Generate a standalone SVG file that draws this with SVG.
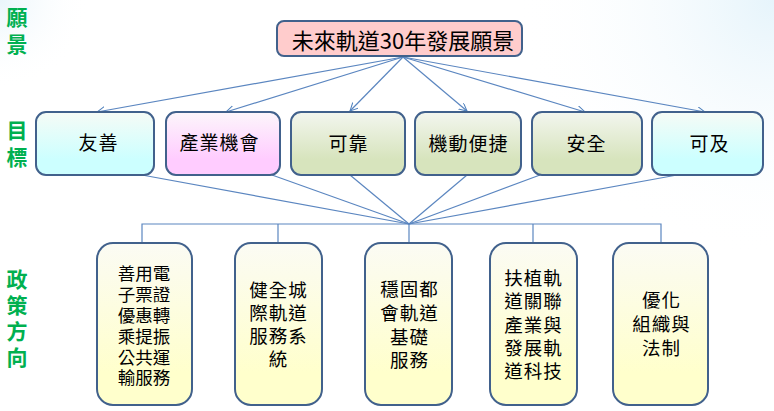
<svg xmlns="http://www.w3.org/2000/svg" width="774" height="411" viewBox="0 0 774 411">
<defs>
<radialGradient id="bgTR" cx="774" cy="0" r="260" gradientUnits="userSpaceOnUse">
<stop offset="0" stop-color="#e6f4fb"/>
<stop offset="1" stop-color="#ffffff" stop-opacity="0"/>
</radialGradient>
<radialGradient id="bgTL" cx="0" cy="0" r="90" gradientUnits="userSpaceOnUse">
<stop offset="0" stop-color="#eaf5fb"/>
<stop offset="1" stop-color="#ffffff" stop-opacity="0"/>
</radialGradient>
<linearGradient id="gCyan" x1="0" y1="0" x2="0" y2="1">
<stop offset="0" stop-color="#f6fbf6"/>
<stop offset="0.75" stop-color="#ccffff"/>
<stop offset="1" stop-color="#ccffff"/>
</linearGradient>
<linearGradient id="gPink" x1="0" y1="0" x2="0" y2="1">
<stop offset="0" stop-color="#fcf6fb"/>
<stop offset="0.75" stop-color="#ffccff"/>
<stop offset="1" stop-color="#ffccff"/>
</linearGradient>
<linearGradient id="gOlive" x1="0" y1="0" x2="0" y2="1">
<stop offset="0" stop-color="#f3f6ef"/>
<stop offset="0.75" stop-color="#d7e4bd"/>
<stop offset="1" stop-color="#d7e4bd"/>
</linearGradient>
<linearGradient id="gYellow" x1="0" y1="0" x2="0" y2="1">
<stop offset="0" stop-color="#fbfbf4"/>
<stop offset="0.8" stop-color="#ffffcc"/>
<stop offset="1" stop-color="#ffffcc"/>
</linearGradient>
<marker id="arr" markerWidth="10" markerHeight="10" refX="8" refY="4" orient="auto" markerUnits="userSpaceOnUse">
<path d="M0,0 L8,4 L0,8" fill="none" stroke="#4f81bd" stroke-width="1"/>
</marker>
<style>
.box{stroke:#41618c;stroke-width:2}
.t{font-family:"Noto Sans CJK TC","Noto Sans CJK SC",sans-serif;fill:#000;text-anchor:middle;dominant-baseline:central}
.side{font-family:"Noto Sans CJK TC","Noto Sans CJK SC",sans-serif;fill:#00b050;font-weight:bold;font-size:21px;text-anchor:middle;dominant-baseline:central}
.c{stroke:#5b86c0;stroke-width:1.2;fill:none}
.goal{font-size:19px;letter-spacing:1px}
.pol{font-size:18.5px;letter-spacing:1px}
</style>
</defs>
<rect width="774" height="411" fill="#ffffff"/>
<rect width="774" height="411" fill="url(#bgTR)"/>
<rect width="774" height="411" fill="url(#bgTL)"/>

<g id="side-labels">
<text class="side" x="17"><tspan x="17" y="16">願</tspan><tspan x="17" y="43">景</tspan></text>
<text class="side" x="17"><tspan x="17" y="129">目</tspan><tspan x="17" y="156">標</tspan></text>
<text class="side" x="17"><tspan x="17" y="278">政</tspan><tspan x="17" y="304">策</tspan><tspan x="17" y="330">方</tspan><tspan x="17" y="356">向</tspan></text>
</g>

<g id="connectors">
<line class="c" x1="403" y1="57" x2="97" y2="112" marker-end="url(#arr)"/>
<line class="c" x1="403" y1="57" x2="226" y2="112" marker-end="url(#arr)"/>
<line class="c" x1="403" y1="57" x2="350" y2="111" marker-end="url(#arr)"/>
<line class="c" x1="403" y1="57" x2="467" y2="111" marker-end="url(#arr)"/>
<line class="c" x1="403" y1="57" x2="585" y2="112" marker-end="url(#arr)"/>
<line class="c" x1="403" y1="57" x2="705" y2="112" marker-end="url(#arr)"/>
<line class="c" x1="142" y1="175" x2="409" y2="224"/>
<line class="c" x1="272" y1="175" x2="409" y2="224"/>
<line class="c" x1="350" y1="175" x2="409" y2="224"/>
<line class="c" x1="467" y1="175" x2="409" y2="224"/>
<line class="c" x1="540" y1="175" x2="409" y2="224"/>
<line class="c" x1="677" y1="175" x2="409" y2="224"/>
<polyline class="c" points="142,243 142,224 661,224 661,243"/>
<line class="c" x1="278" y1="224" x2="278" y2="243"/>
<line class="c" x1="409" y1="224" x2="409" y2="243"/>
<line class="c" x1="533" y1="224" x2="533" y2="243"/>
</g>

<g id="vision">
<rect class="box" x="277" y="21" width="245" height="35" rx="7" fill="#ffcccc"/>
<text class="t" x="403" y="38.5" font-size="22">未來軌道30年發展願景</text>
</g>

<g id="goal-1">
<rect class="box" x="36" y="112" width="118" height="63" rx="10" fill="url(#gCyan)"/>
<text class="t goal" x="98.5" y="141">友善</text>
</g>
<g id="goal-2">
<rect class="box" x="166" y="112" width="114" height="63" rx="10" fill="url(#gPink)"/>
<text class="t goal" x="219.5" y="141">產業機會</text>
</g>
<g id="goal-3">
<rect class="box" x="291" y="112" width="114" height="63" rx="10" fill="url(#gOlive)"/>
<text class="t goal" x="348.5" y="142">可靠</text>
</g>
<g id="goal-4">
<rect class="box" x="415" y="112" width="106" height="63" rx="10" fill="url(#gOlive)"/>
<text class="t goal" x="468.5" y="142">機動便捷</text>
</g>
<g id="goal-5">
<rect class="box" x="532" y="112" width="110" height="63" rx="10" fill="url(#gOlive)"/>
<text class="t goal" x="586.5" y="142">安全</text>
</g>
<g id="goal-6">
<rect class="box" x="652" y="112" width="111" height="63" rx="10" fill="url(#gCyan)"/>
<text class="t goal" x="709.5" y="142">可及</text>
</g>

<g id="policy-1">
<rect class="box" x="97" y="243" width="95" height="162" rx="16" fill="url(#gYellow)"/>
<text class="t" font-size="17.5"><tspan x="144" y="272">善用電</tspan><tspan x="144" y="293">子票證</tspan><tspan x="144" y="314">優惠轉</tspan><tspan x="144" y="335">乘提振</tspan><tspan x="144" y="356">公共運</tspan><tspan x="144" y="376">輸服務</tspan></text>
</g>
<g id="policy-2">
<rect class="box" x="235" y="243" width="87" height="162" rx="16" fill="url(#gYellow)"/>
<text class="t pol"><tspan x="278.5" y="289">健全城</tspan><tspan x="278.5" y="312">際軌道</tspan><tspan x="278.5" y="335">服務系</tspan><tspan x="278.5" y="358">統</tspan></text>
</g>
<g id="policy-3">
<rect class="box" x="365" y="243" width="87" height="162" rx="16" fill="url(#gYellow)"/>
<text class="t pol"><tspan x="409.5" y="288">穩固都</tspan><tspan x="409.5" y="312">會軌道</tspan><tspan x="409.5" y="336">基礎</tspan><tspan x="409.5" y="359">服務</tspan></text>
</g>
<g id="policy-4">
<rect class="box" x="490" y="243" width="87" height="162" rx="16" fill="url(#gYellow)"/>
<text class="t pol"><tspan x="533.5" y="277">扶植軌</tspan><tspan x="533.5" y="300">道關聯</tspan><tspan x="533.5" y="324">產業與</tspan><tspan x="533.5" y="347">發展軌</tspan><tspan x="533.5" y="370">道科技</tspan></text>
</g>
<g id="policy-5">
<rect class="box" x="613" y="243" width="95" height="162" rx="16" fill="url(#gYellow)"/>
<text class="t pol"><tspan x="661.5" y="299">優化</tspan><tspan x="661.5" y="323">組織與</tspan><tspan x="661.5" y="347">法制</tspan></text>
</g>
</svg>
